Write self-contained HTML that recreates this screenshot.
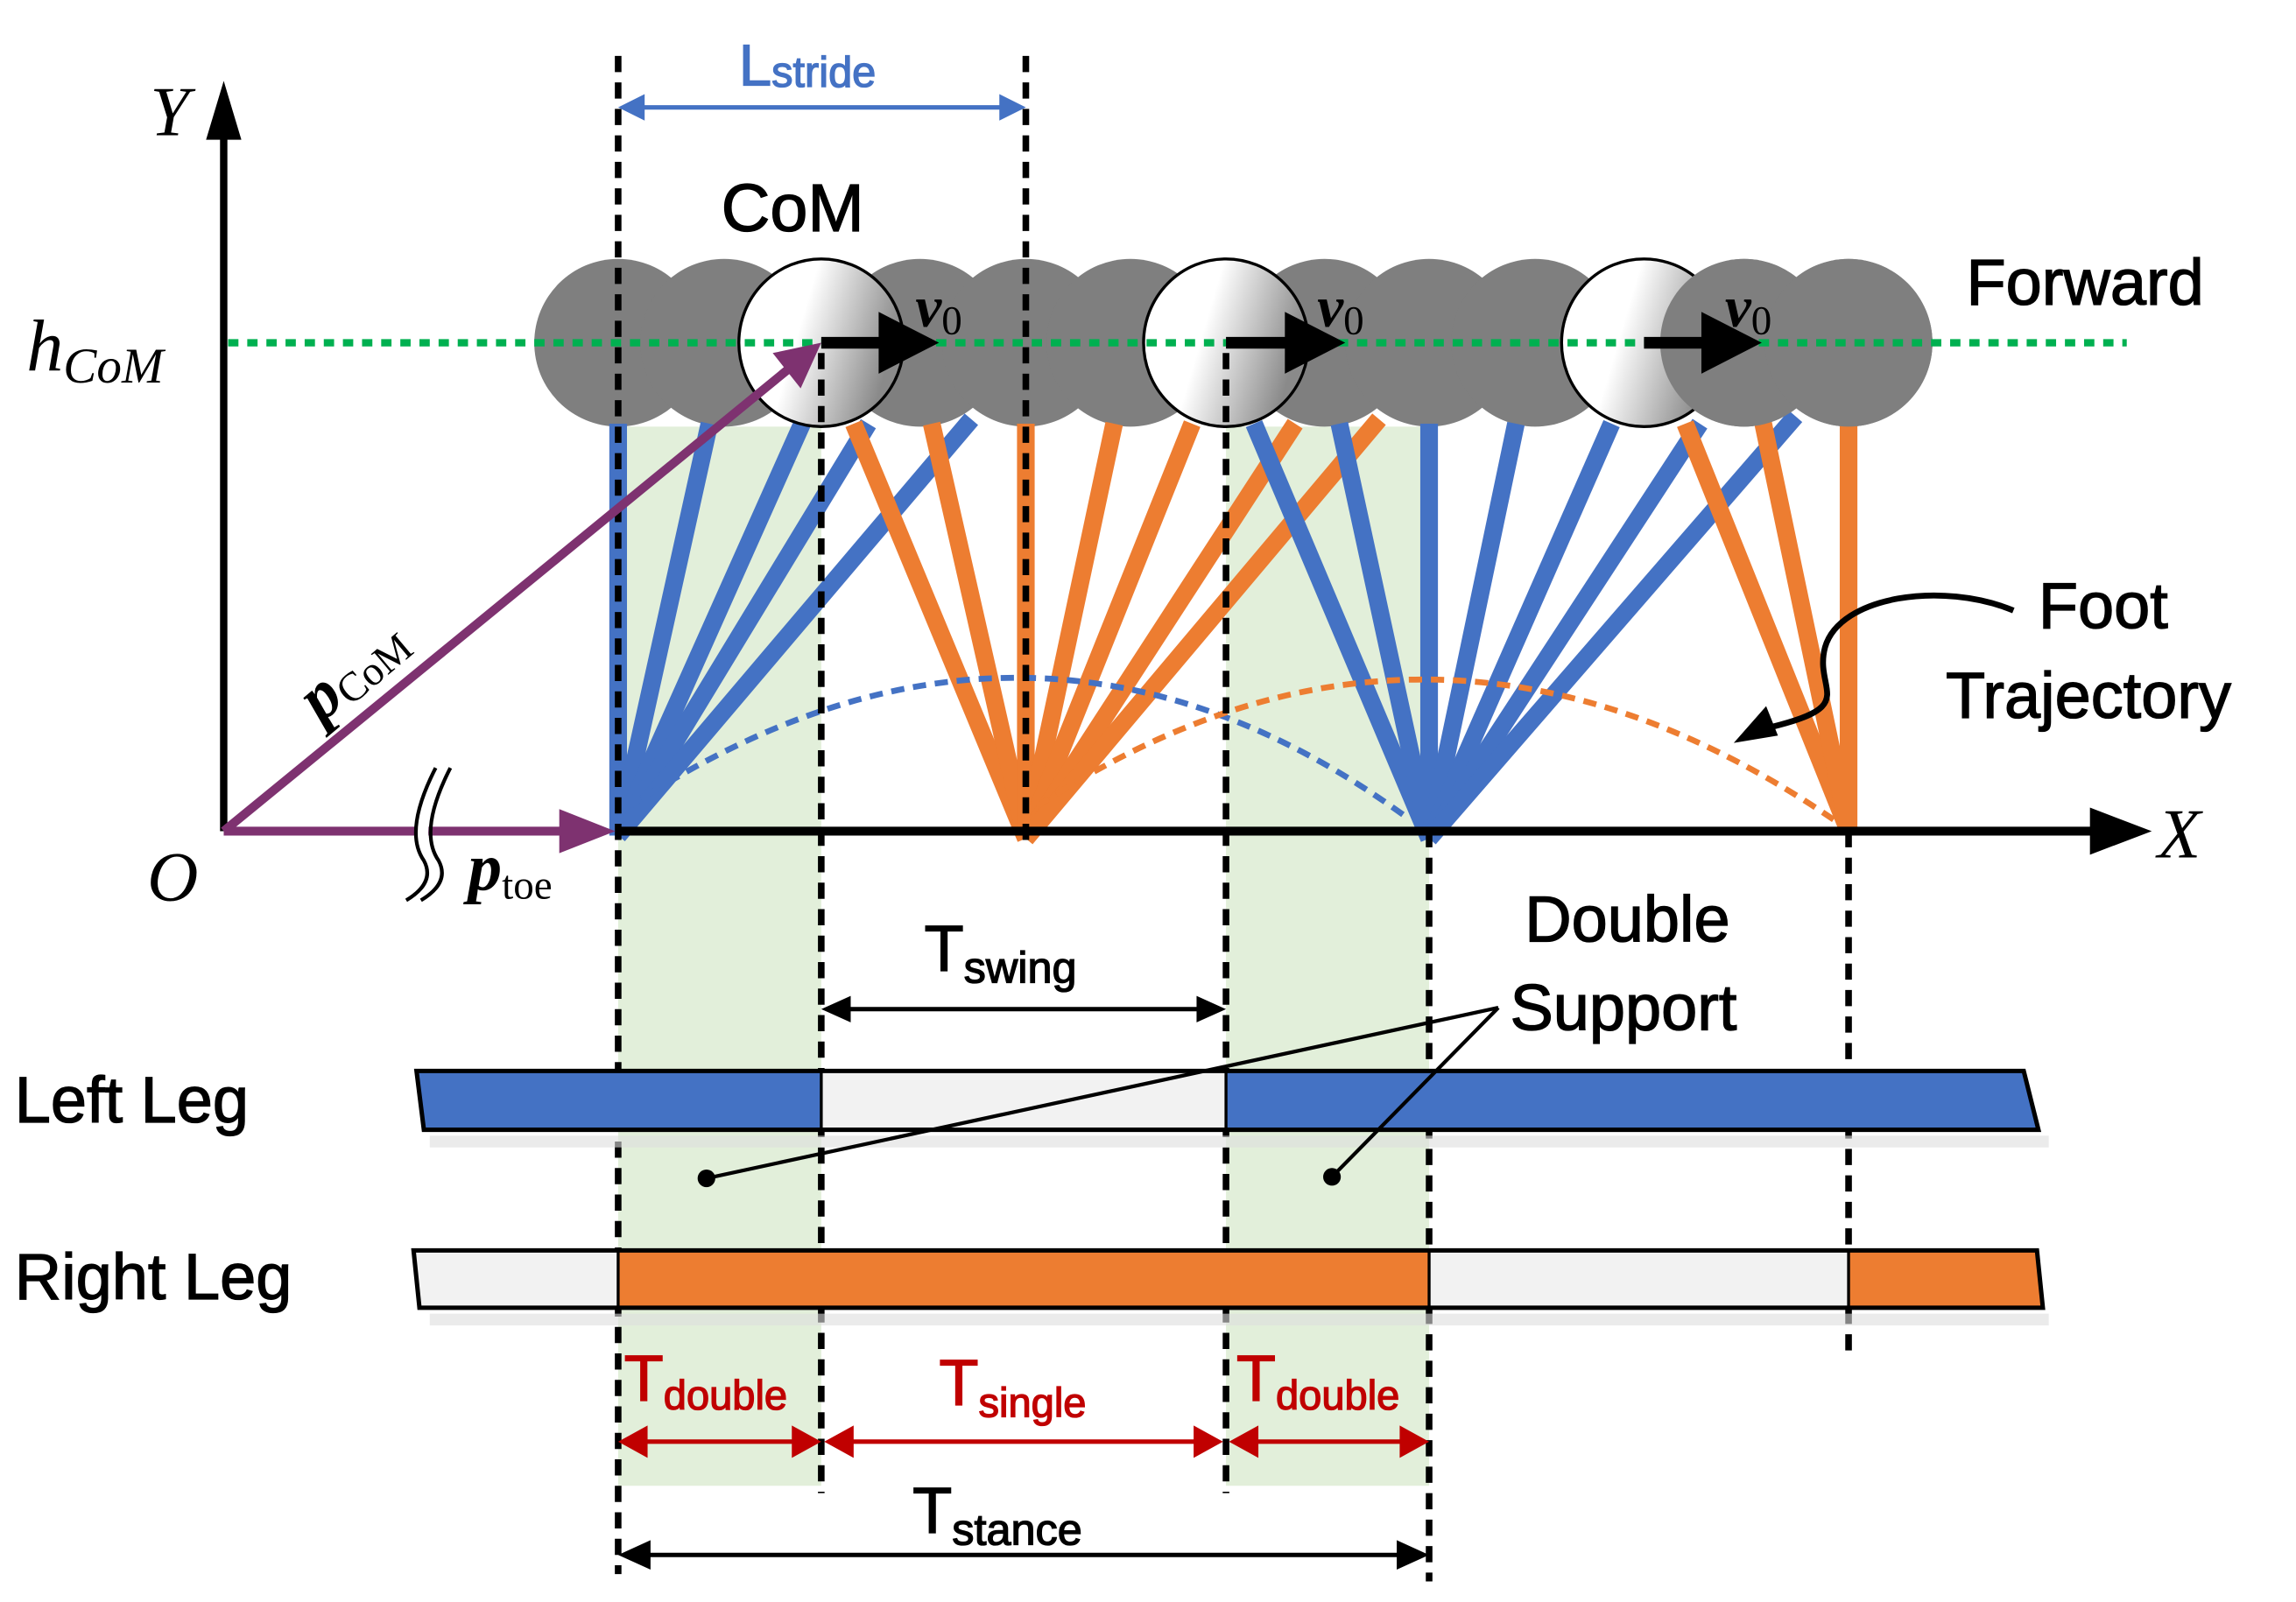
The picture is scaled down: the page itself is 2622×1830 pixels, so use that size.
<!DOCTYPE html>
<html><head><style>html,body{margin:0;padding:0;background:#fff}svg{display:block}</style></head><body>
<svg width="2622" height="1830" viewBox="0 0 1560 1089" preserveAspectRatio="none" xmlns="http://www.w3.org/2000/svg">
<defs>
<linearGradient id="wg" x1="0" y1="0" x2="1" y2="0.3">
<stop offset="0" stop-color="#ffffff"/><stop offset="0.45" stop-color="#ffffff"/><stop offset="1" stop-color="#8a8a8a"/>
</linearGradient>
</defs>
<rect x="420" y="290" width="138" height="720" fill="#e2efda"/>
<rect x="833" y="290" width="138" height="720" fill="#e2efda"/>
<g fill="#7f7f7f">
<ellipse cx="420" cy="233" rx="57" ry="57"/><ellipse cx="492" cy="233" rx="57" ry="57"/>
<ellipse cx="625" cy="233" rx="57" ry="57"/><ellipse cx="697" cy="233" rx="57" ry="57"/>
<ellipse cx="768" cy="233" rx="57" ry="57"/><ellipse cx="900" cy="233" rx="57" ry="57"/>
<ellipse cx="971" cy="233" rx="57" ry="57"/><ellipse cx="1043" cy="233" rx="57" ry="57"/>
<ellipse cx="1185" cy="233" rx="57" ry="57"/><ellipse cx="1256" cy="233" rx="57" ry="57"/>
</g>
<g stroke-width="12" stroke-linecap="butt">
<g stroke="#4472c4">
<line x1="420" y1="568" x2="420" y2="288"/><line x1="420" y1="568" x2="482" y2="288"/>
<line x1="420" y1="568" x2="545" y2="288"/><line x1="420" y1="568" x2="590" y2="288"/>
<line x1="420" y1="568" x2="660" y2="285"/>
</g>
<g stroke="#ed7d31">
<line x1="697" y1="570" x2="580" y2="288"/><line x1="697" y1="570" x2="633" y2="288"/>
<line x1="697" y1="570" x2="697" y2="288"/><line x1="697" y1="570" x2="757" y2="288"/>
<line x1="697" y1="570" x2="810" y2="288"/><line x1="697" y1="570" x2="880" y2="288"/>
<line x1="697" y1="570" x2="937" y2="285"/>
</g>
<g stroke="#4472c4">
<line x1="971" y1="570" x2="852" y2="288"/><line x1="971" y1="570" x2="910" y2="288"/>
<line x1="971" y1="570" x2="971" y2="288"/><line x1="971" y1="570" x2="1030" y2="288"/>
<line x1="971" y1="570" x2="1095" y2="288"/><line x1="971" y1="570" x2="1155" y2="288"/>
<line x1="971" y1="570" x2="1220" y2="283"/>
</g>
<g stroke="#ed7d31">
<line x1="1256" y1="565" x2="1145" y2="288"/><line x1="1256" y1="565" x2="1198" y2="288"/>
<line x1="1256" y1="565" x2="1256" y2="288"/>
</g>
</g>
<g stroke="#000" stroke-width="2" fill="url(#wg)">
<ellipse cx="558" cy="233" rx="56" ry="57"/><ellipse cx="833" cy="233" rx="56" ry="57"/><ellipse cx="1117" cy="233" rx="56" ry="57"/>
</g>
<ellipse cx="1185" cy="233" rx="57" ry="57" fill="#7f7f7f"/>
<ellipse cx="1256" cy="233" rx="57" ry="57" fill="#7f7f7f"/>
<line x1="155" y1="233" x2="1445" y2="233" stroke="#00b050" stroke-width="5" stroke-dasharray="7,6"/>
<path d="M428,548 Q700,370 955,555" fill="none" stroke="#4472c4" stroke-width="4" stroke-dasharray="9,6"/>
<path d="M705,548 Q975,370 1250,560" fill="none" stroke="#ed7d31" stroke-width="4" stroke-dasharray="9,6"/>
<g stroke="#000" stroke-width="4.5" stroke-dasharray="11,7">
<line x1="420" y1="38" x2="420" y2="1070"/>
<line x1="697" y1="38" x2="697" y2="575"/>
<line x1="558" y1="240" x2="558" y2="1015"/>
<line x1="833" y1="240" x2="833" y2="1015"/>
<line x1="971" y1="565" x2="971" y2="1075"/>
<line x1="1256" y1="565" x2="1256" y2="920"/>
</g>
<g stroke="#000" stroke-width="8">
<line x1="558" y1="233" x2="600" y2="233"/><line x1="833" y1="233" x2="876" y2="233"/><line x1="1117" y1="233" x2="1160" y2="233"/>
</g>
<g fill="#000">
<path d="M597,212 L638,233 L597,254z"/><path d="M873,212 L914,233 L873,254z"/><path d="M1156,212 L1197,233 L1156,254z"/>
</g>
<g font-family="Liberation Serif,serif" font-style="italic" font-size="40" font-weight="bold">
<text x="622" y="222">v<tspan font-size="28" font-weight="normal" font-style="normal" dy="5">0</tspan></text>
<text x="895" y="222">v<tspan font-size="28" font-weight="normal" font-style="normal" dy="5">0</tspan></text>
<text x="1172" y="222">v<tspan font-size="28" font-weight="normal" font-style="normal" dy="5">0</tspan></text>
</g>
<line x1="152" y1="565" x2="152" y2="85" stroke="#000" stroke-width="5"/>
<path d="M140,95 L152,55 L164,95z" fill="#000"/>
<line x1="420" y1="565" x2="1425" y2="565" stroke="#000" stroke-width="6"/>
<path d="M1420,549 L1462,565 L1420,581z" fill="#000"/>
<line x1="152" y1="565" x2="538" y2="249" stroke="#7e3270" stroke-width="6"/>
<path d="M525,240 L558,233 L544,264z" fill="#7e3270"/>
<line x1="152" y1="565" x2="385" y2="565" stroke="#7e3270" stroke-width="6"/>
<path d="M380,550 L418,565 L380,580z" fill="#7e3270"/>
<path d="M300,522 Q278,565 292,585 Q300,600 280,612" fill="none" stroke="#fff" stroke-width="9"/>
<path d="M296,522 Q274,565 288,585 Q296,600 276,612 M306,522 Q284,565 298,585 Q306,600 286,612" fill="none" stroke="#000" stroke-width="2.5"/>
<line x1="430" y1="73" x2="688" y2="73" stroke="#4472c4" stroke-width="3"/>
<path d="M420,73 L438,64 L438,82z M697,73 L679,64 L679,82z" fill="#4472c4"/>
<text x="502" y="58" font-family="Liberation Sans,sans-serif" font-size="40" fill="#4472c4" stroke="#4472c4" stroke-width="0.8">L<tspan font-size="29" dy="1">stride</tspan></text>
<g font-family="Liberation Sans,sans-serif" fill="#000" stroke="#000" stroke-width="0.8">
<text x="490" y="157" font-size="46">CoM</text>
<text x="1336" y="207" font-size="44">Forward</text>
<text x="1385" y="427" font-size="44">Foot</text>
<text x="1322" y="488" font-size="44">Trajectory</text>
<text x="1036" y="640" font-size="44">Double</text>
<text x="1026" y="700" font-size="44">Support</text>
<text x="10" y="763" font-size="44">Left Leg</text>
<text x="10" y="883" font-size="44">Right Leg</text>
<text x="628" y="660" font-size="44">T<tspan font-size="30" dy="8">swing</tspan></text>
<text x="620" y="1042" font-size="44">T<tspan font-size="30" dy="8">stance</tspan></text>
</g>
<g font-family="Liberation Sans,sans-serif" fill="#c00000" stroke="#c00000" stroke-width="0.8">
<text x="424" y="952" font-size="44">T<tspan font-size="28" dy="6">double</tspan></text>
<text x="638" y="955" font-size="44">T<tspan font-size="28" dy="8">single</tspan></text>
<text x="840" y="952" font-size="44">T<tspan font-size="28" dy="6">double</tspan></text>
</g>
<g font-family="Liberation Serif,serif" font-style="italic" fill="#000">
<text x="102" y="92" font-size="48">Y</text>
<text x="18" y="252" font-size="50">h<tspan font-size="34" dy="8">CoM</tspan></text>
<text x="100" y="612" font-size="48">O</text>
<text x="1466" y="583" font-size="48">X</text>
<text x="318" y="605" font-size="46" font-weight="bold">p<tspan font-size="28" font-style="normal" font-weight="normal" dy="6">toe</tspan></text>
<text transform="translate(218,492) rotate(-40)" font-size="46" font-weight="bold">p<tspan font-size="28" font-style="normal" font-weight="normal" dy="4">CoM</tspan></text>
</g>
<path d="M1368,415 C1320,395 1250,405 1240,440 C1232,470 1265,480 1200,495" fill="none" stroke="#000" stroke-width="4"/>
<path d="M1178,505 L1200,480 L1208,500z" fill="#000"/>
<line x1="570" y1="686" x2="822" y2="686" stroke="#000" stroke-width="3"/>
<path d="M558,686 L578,677 L578,695z M833,686 L813,677 L813,695z" fill="#000"/>
<rect x="292" y="772" width="1100" height="8" fill="#ddd" opacity="0.6"/>
<rect x="292" y="893" width="1100" height="8" fill="#ddd" opacity="0.6"/>
<path d="M283,728 L558,728 L558,768 L288,768z" fill="#4472c4"/>
<rect x="558" y="728" width="275" height="40" fill="#f2f2f2"/>
<path d="M833,728 L1375,728 L1385,768 L833,768z" fill="#4472c4"/>
<path d="M283,728 L1375,728 L1385,768 L288,768z" fill="none" stroke="#000" stroke-width="3"/>
<line x1="558" y1="728" x2="558" y2="768" stroke="#000" stroke-width="2"/>
<line x1="833" y1="728" x2="833" y2="768" stroke="#000" stroke-width="2"/>
<path d="M281,850 L420,850 L420,889 L285,889z" fill="#f2f2f2"/>
<rect x="420" y="850" width="551" height="39" fill="#ed7d31"/>
<rect x="971" y="850" width="285" height="39" fill="#f2f2f2"/>
<path d="M1256,850 L1384,850 L1388,889 L1256,889z" fill="#ed7d31"/>
<path d="M281,850 L1384,850 L1388,889 L285,889z" fill="none" stroke="#000" stroke-width="3"/>
<line x1="420" y1="850" x2="420" y2="889" stroke="#000" stroke-width="2"/>
<line x1="971" y1="850" x2="971" y2="889" stroke="#000" stroke-width="2"/>
<line x1="1256" y1="850" x2="1256" y2="889" stroke="#000" stroke-width="2"/>
<line x1="480" y1="801" x2="1018" y2="685" stroke="#000" stroke-width="2.5"/>
<line x1="905" y1="800" x2="1018" y2="685" stroke="#000" stroke-width="2.5"/>
<circle cx="480" cy="801" r="6" fill="#000"/><circle cx="905" cy="800" r="6" fill="#000"/>
<g stroke="#c00000" stroke-width="3">
<line x1="430" y1="980" x2="548" y2="980"/><line x1="570" y1="980" x2="822" y2="980"/><line x1="844" y1="980" x2="960" y2="980"/>
</g>
<g fill="#c00000">
<path d="M420,980 L440,969 L440,991z M558,980 L538,969 L538,991z"/>
<path d="M560,980 L580,969 L580,991z M831,980 L811,969 L811,991z"/>
<path d="M835,980 L855,969 L855,991z M971,980 L951,969 L951,991z"/>
</g>
<line x1="432" y1="1057" x2="960" y2="1057" stroke="#000" stroke-width="3"/>
<path d="M420,1057 L442,1047 L442,1067z M971,1057 L949,1047 L949,1067z" fill="#000"/>
</svg>
</body></html>
